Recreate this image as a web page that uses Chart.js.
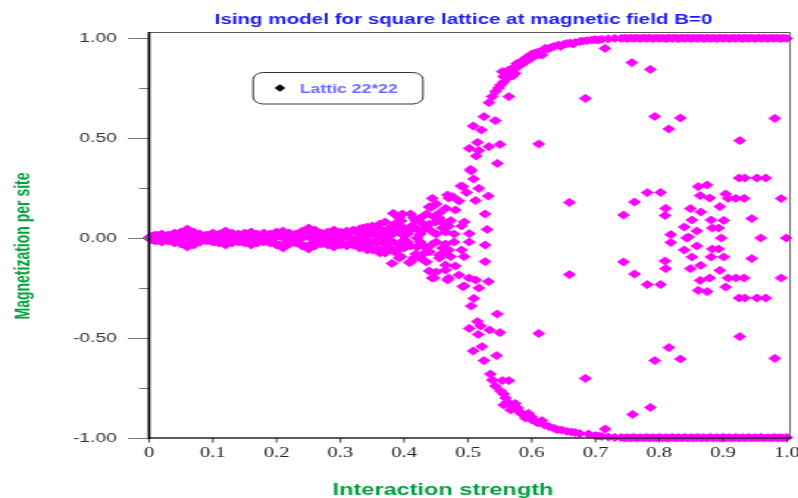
<!DOCTYPE html>
<html>
<head>
<meta charset="utf-8">
<script src="https://cdn.jsdelivr.net/npm/chart.js@4.4.1/dist/chart.umd.min.js"></script>
<style>
  html, body { margin: 0; padding: 0; background: #fff; }
  #ising { display: block; }
</style>
</head>
<body>
<!-- drawn narrow and stretched sideways, like the original picture -->
<canvas id="ising" width="543" height="498" style="width:798px;height:498px"></canvas>
<script>
const chartTitle = 'Ising model for square lattice at magnetic field B=0';
const xTitle = 'Interaction strength';
const yTitle = 'Magnetization per site';
const seriesName = 'Lattic 22*22';

const xTickValues = [0, 0.1, 0.2, 0.3, 0.4, 0.5, 0.6, 0.7, 0.8, 0.9, 1.0];
const yTickValues = [-1, -0.5, 0, 0.5, 1];
const yMinorTicks = [-0.75, -0.25, 0.25, 0.75];

// narrow band around zero, weak coupling
const bandX = [0.00, 0.01, 0.02, 0.03, 0.04, 0.05, 0.06, 0.07, 0.08, 0.09,
               0.10, 0.11, 0.12, 0.13, 0.14, 0.15, 0.16, 0.17, 0.18, 0.19,
               0.20, 0.21, 0.22, 0.23, 0.24, 0.25, 0.26, 0.27, 0.28, 0.29,
               0.30, 0.31, 0.32, 0.33];
const bandUp = [0.000, 0.015, 0.020, 0.015, 0.025, 0.030, 0.045, 0.030, 0.020, 0.015,
                0.025, 0.020, 0.035, 0.025, 0.020, 0.025, 0.030, 0.020, 0.025, 0.020,
                0.030, 0.035, 0.025, 0.020, 0.035, 0.050, 0.040, 0.025, 0.030, 0.040,
                0.030, 0.035, 0.040, 0.045];
const bandMid = [0.000, 0.000, -0.005, 0.005, 0.000, -0.005, 0.005, 0.000, 0.005, -0.005,
                 0.000, 0.005, -0.005, 0.000, 0.005, 0.000, -0.005, 0.005, 0.000, -0.005,
                 0.005, 0.000, -0.005, 0.005, 0.000, 0.005, -0.005, 0.000, 0.005, -0.005,
                 0.000, 0.005, -0.005, 0.000];
const bandDown = [0.000, -0.015, -0.020, -0.015, -0.025, -0.030, -0.045, -0.035, -0.020, -0.015,
                  -0.020, -0.025, -0.035, -0.025, -0.020, -0.025, -0.035, -0.025, -0.020, -0.025,
                  -0.035, -0.050, -0.030, -0.025, -0.040, -0.055, -0.040, -0.030, -0.035, -0.045,
                  -0.035, -0.040, -0.035, -0.050];
const bandHalfX = [0.005, 0.015, 0.025, 0.035, 0.045, 0.055, 0.065, 0.075, 0.085, 0.095,
                   0.105, 0.115, 0.125, 0.135, 0.145, 0.155, 0.165, 0.175, 0.185, 0.195,
                   0.205, 0.215, 0.225, 0.235, 0.245, 0.255, 0.265, 0.275, 0.285, 0.295,
                   0.305, 0.315, 0.325];
const bandHalfUp = [0.010, 0.012, 0.008, 0.015, 0.020, 0.030, 0.025, 0.012, 0.010, 0.015,
                    0.012, 0.022, 0.020, 0.012, 0.015, 0.020, 0.015, 0.012, 0.015, 0.018,
                    0.025, 0.020, 0.012, 0.022, 0.035, 0.030, 0.018, 0.020, 0.025, 0.022,
                    0.025, 0.028, 0.030];
const bandHalfDown = [-0.010, -0.012, -0.010, -0.015, -0.020, -0.030, -0.025, -0.012, -0.010, -0.012,
                      -0.018, -0.022, -0.020, -0.012, -0.018, -0.022, -0.018, -0.012, -0.015, -0.022,
                      -0.035, -0.030, -0.018, -0.025, -0.040, -0.030, -0.022, -0.025, -0.030, -0.028,
                      -0.030, -0.028, -0.035];

// fork around the transition
const forkPoints = [
  [0.335, 0.05], [0.345, 0.035], [0.35, 0.06], [0.355, 0.025], [0.36, 0.05], [0.365, 0.015], [0.37, 0.08], [0.375, 0.045], [0.38, 0.05], [0.383, 0.123],
  [0.39, 0.03], [0.395, 0.085], [0.397, 0.12], [0.40, 0.05], [0.405, 0.02], [0.41, 0.12], [0.412, 0.06], [0.418, 0.087], [0.42, 0.045], [0.425, 0.02],
  [0.43, 0.07], [0.435, 0.05], [0.439, 0.155], [0.444, 0.198], [0.445, 0.03], [0.447, 0.105], [0.45, 0.08], [0.455, 0.125], [0.46, 0.05], [0.465, 0.148],
  [0.468, 0.215], [0.47, 0.2], [0.473, 0.087], [0.478, 0.02], [0.486, 0.185], [0.489, 0.26], [0.492, 0.257], [0.494, 0.08], [0.498, 0.228], [0.502, 0.022],
  [0.505, 0.335], [0.509, 0.295], [0.512, 0.187], [0.517, 0.248], [0.527, 0.12], [0.532, 0.21], [0.53, 0.043], [0.442, 0.153], [0.476, 0.207],
  [0.33, 0.03], [0.34, 0.01], [0.35, 0.02], [0.36, 0.0], [0.37, 0.03], [0.38, 0.015], [0.385, 0.07], [0.39, 0.06], [0.40, 0.01], [0.41, 0.04],
  [0.415, 0.1], [0.42, 0.0], [0.43, 0.04], [0.435, 0.12], [0.44, 0.07], [0.45, 0.02], [0.45, 0.17], [0.455, 0.1], [0.46, 0.08], [0.465, 0.03],
  [0.47, 0.06], [0.48, 0.14], [0.49, 0.06], [0.425, 0.1], [0.342, 0.055], [0.362, 0.07], [0.372, 0.01], [0.392, 0.1],
  [0.335, -0.045], [0.345, -0.035], [0.35, -0.06], [0.355, -0.025], [0.36, -0.055], [0.365, -0.015], [0.37, -0.075], [0.375, -0.05], [0.38, -0.055], [0.381, -0.127],
  [0.39, -0.03], [0.395, -0.093], [0.40, -0.05], [0.405, -0.02], [0.408, -0.123], [0.411, -0.118], [0.418, -0.08], [0.42, -0.045], [0.425, -0.02], [0.431, -0.077],
  [0.435, -0.05], [0.439, -0.165], [0.444, -0.2], [0.445, -0.03], [0.447, -0.2], [0.455, -0.085], [0.46, -0.05], [0.465, -0.16], [0.465, -0.135], [0.468, -0.21],
  [0.47, -0.2], [0.473, -0.093], [0.478, -0.02], [0.486, -0.185], [0.492, -0.243], [0.494, -0.093], [0.494, -0.24], [0.502, -0.2], [0.502, -0.02], [0.505, -0.34],
  [0.509, -0.302], [0.512, -0.21], [0.517, -0.25], [0.527, -0.118], [0.527, -0.035], [0.532, -0.218],
  [0.33, -0.03], [0.34, -0.01], [0.35, -0.02], [0.37, -0.03], [0.38, -0.015], [0.385, -0.07], [0.39, -0.06], [0.40, -0.01], [0.41, -0.04], [0.415, -0.1],
  [0.43, -0.04], [0.435, -0.12], [0.44, -0.07], [0.45, -0.02], [0.45, -0.17], [0.455, -0.1], [0.46, -0.08], [0.465, -0.03], [0.47, -0.06], [0.48, -0.14],
  [0.49, -0.06], [0.425, -0.1], [0.342, -0.06], [0.362, -0.075], [0.372, -0.01], [0.392, -0.1]
];

// branch going to +1
const upperBranch = [
  [0.502, 0.448], [0.504, 0.343], [0.508, 0.56], [0.513, 0.41], [0.515, 0.478], [0.517, 0.437], [0.521, 0.54], [0.525, 0.607], [0.533, 0.457], [0.543, 0.587],
  [0.546, 0.373], [0.55, 0.468], [0.611, 0.47], [0.684, 0.698], [0.715, 0.948], [0.757, 0.877], [0.786, 0.843], [0.793, 0.608], [0.815, 0.545], [0.833, 0.6],
  [0.926, 0.487], [0.981, 0.598],
  [0.533, 0.677], [0.538, 0.707], [0.543, 0.732], [0.548, 0.75], [0.551, 0.765], [0.554, 0.832], [0.556, 0.807], [0.56, 0.82], [0.564, 0.84], [0.564, 0.707],
  [0.568, 0.83], [0.57, 0.85], [0.574, 0.823], [0.577, 0.873], [0.58, 0.86], [0.583, 0.87], [0.585, 0.885], [0.59, 0.898], [0.595, 0.905], [0.6, 0.92],
  [0.605, 0.925], [0.61, 0.93], [0.616, 0.915], [0.621, 0.948], [0.625, 0.945], [0.63, 0.952], [0.635, 0.958], [0.642, 0.965], [0.65, 0.968], [0.655, 0.972],
  [0.66, 0.975], [0.668, 0.977], [0.675, 0.982], [0.68, 0.985], [0.687, 0.987], [0.694, 0.99], [0.70, 0.992], [0.71, 0.994], [0.72, 0.996], [0.73, 0.998],
  [0.556, 0.78], [0.562, 0.8], [0.57, 0.81], [0.575, 0.85], [0.59, 0.88], [0.6, 0.9], [0.61, 0.915], [0.645, 0.958], [0.665, 0.97], [0.705, 0.99]
];

// branch going to -1
const lowerBranch = [
  [0.502, -0.452], [0.508, -0.565], [0.515, -0.418], [0.516, -0.482], [0.52, -0.44], [0.522, -0.543], [0.525, -0.613], [0.534, -0.46], [0.545, -0.588], [0.546, -0.38],
  [0.55, -0.473], [0.611, -0.477], [0.684, -0.702], [0.715, -0.955], [0.758, -0.882], [0.786, -0.847], [0.793, -0.613], [0.815, -0.548], [0.833, -0.605], [0.926, -0.493],
  [0.981, -0.602],
  [0.535, -0.68], [0.538, -0.71], [0.543, -0.74], [0.551, -0.765], [0.554, -0.713], [0.556, -0.835], [0.559, -0.8], [0.564, -0.713], [0.567, -0.86], [0.574, -0.827],
  [0.58, -0.868], [0.585, -0.88], [0.59, -0.9], [0.595, -0.877], [0.6, -0.91], [0.606, -0.918], [0.616, -0.913], [0.62, -0.935], [0.627, -0.943], [0.635, -0.952],
  [0.647, -0.96], [0.655, -0.967], [0.668, -0.973], [0.675, -0.978], [0.689, -0.98], [0.70, -0.988], [0.71, -0.992], [0.72, -0.995], [0.73, -0.997],
  [0.556, -0.78], [0.562, -0.82], [0.57, -0.84], [0.578, -0.85], [0.59, -0.885], [0.6, -0.895], [0.61, -0.925], [0.64, -0.958], [0.662, -0.97], [0.705, -0.99]
];

// flat parts at +1 and -1
const plateauX = [0.740, 0.745, 0.750, 0.755, 0.760, 0.765, 0.770, 0.775, 0.780, 0.785,
                  0.790, 0.795, 0.800, 0.805, 0.810, 0.815, 0.820, 0.825, 0.830, 0.835,
                  0.840, 0.845, 0.850, 0.855, 0.860, 0.865, 0.870, 0.875, 0.880, 0.885,
                  0.890, 0.895, 0.900, 0.905, 0.910, 0.915, 0.920, 0.925, 0.930, 0.935,
                  0.940, 0.945, 0.950, 0.955, 0.960, 0.965, 0.970, 0.975, 0.980, 0.985,
                  0.990, 0.995, 1.000];
const plateauTop = [0.998, 1.000, 0.997, 1.000, 0.998, 1.000, 0.997, 1.000, 0.998, 1.000,
                    0.997, 1.000, 0.998, 1.000, 0.997, 1.000, 0.998, 1.000, 0.997, 1.000,
                    0.998, 1.000, 0.997, 1.000, 0.998, 1.000, 0.997, 1.000, 0.998, 1.000,
                    0.997, 1.000, 0.998, 1.000, 0.997, 1.000, 0.998, 1.000, 0.997, 1.000,
                    0.998, 1.000, 0.997, 1.000, 0.998, 1.000, 0.997, 1.000, 0.998, 1.000,
                    0.997, 1.000, 0.998];
const plateauBottom = [-0.997, -1.000, -0.998, -1.000, -0.997, -1.000, -0.998, -1.000, -0.997, -1.000,
                       -0.998, -1.000, -0.997, -1.000, -0.998, -1.000, -0.997, -1.000, -0.998, -1.000,
                       -0.997, -1.000, -0.998, -1.000, -0.997, -1.000, -0.998, -1.000, -0.997, -1.000,
                       -0.998, -1.000, -0.997, -1.000, -0.998, -1.000, -0.997, -1.000, -0.998, -1.000,
                       -0.997, -1.000, -0.998, -1.000, -0.997, -1.000, -0.998, -1.000, -0.997, -1.000,
                       -0.998, -1.000, -0.997];

// stray points inside the ordered region
const strayPoints = [
  [0.659, 0.178], [0.659, -0.183], [0.761, 0.18], [0.761, -0.18], [0.744, 0.115], [0.744, -0.12], [0.781, 0.227], [0.781, -0.233], [0.802, 0.228], [0.802, -0.233],
  [0.81, 0.148], [0.81, -0.153], [0.809, 0.112], [0.809, -0.115], [0.818, 0.017], [0.818, -0.022], [0.839, 0.055], [0.839, -0.06], [0.843, 0.0], [0.846, 0.005],
  [0.849, 0.147], [0.849, -0.153], [0.851, 0.09], [0.851, -0.095], [0.859, 0.035], [0.859, -0.04], [0.861, 0.257], [0.861, -0.262], [0.864, 0.212], [0.864, -0.212],
  [0.865, 0.13], [0.865, -0.137], [0.875, 0.265], [0.875, -0.268], [0.879, 0.2], [0.879, -0.2], [0.881, 0.09], [0.881, -0.095], [0.883, 0.05], [0.883, -0.055],
  [0.893, 0.05], [0.893, -0.055], [0.895, 0.157], [0.895, -0.162], [0.897, 0.0], [0.901, 0.088], [0.901, -0.095], [0.904, 0.22], [0.904, -0.245], [0.908, 0.198],
  [0.92, 0.198], [0.933, 0.198], [0.908, -0.2], [0.92, -0.2], [0.933, -0.2], [0.925, 0.3], [0.934, 0.3], [0.953, 0.3], [0.967, 0.3], [0.925, -0.3],
  [0.934, -0.3], [0.953, -0.3], [0.967, -0.3], [0.945, 0.097], [0.945, -0.103], [0.959, 0.0], [0.991, 0.197], [0.991, -0.2], [0.999, 0.0]
];

const points = [];
bandX.forEach((x, i) => {
  points.push({ x: x, y: bandUp[i] });
  points.push({ x: x, y: bandMid[i] });
  points.push({ x: x, y: bandDown[i] });
});
bandHalfX.forEach((x, i) => {
  points.push({ x: x, y: bandHalfUp[i] });
  points.push({ x: x, y: bandHalfDown[i] });
});
plateauX.forEach((x, i) => {
  points.push({ x: x, y: plateauTop[i] });
  points.push({ x: x, y: plateauBottom[i] });
});
[forkPoints, upperBranch, lowerBranch, strayPoints].forEach(list => {
  list.forEach(p => points.push({ x: p[0], y: p[1] }));
});

const SANS = '"Liberation Sans", Arial, sans-serif';
const SERIF = '"Liberation Serif", "Times New Roman", serif';

const frame = {
  id: 'frame',
  afterDatasetsDraw(chart) {
    const { ctx, chartArea: a, scales: { x, y } } = chart;
    ctx.save();
    ctx.lineWidth = 1;
    ctx.strokeStyle = '#555';
    ctx.beginPath();
    ctx.moveTo(a.left, a.top + 0.5);
    ctx.lineTo(a.right - 0.5, a.top + 0.5);
    ctx.lineTo(a.right - 0.5, a.bottom);
    ctx.stroke();

    ctx.strokeStyle = '#777';
    yTickValues.concat(yMinorTicks).forEach(v => {
      const py = Math.round(y.getPixelForValue(v)) + 0.5;
      const len = yTickValues.includes(v) ? 14.3 : 6.8;
      ctx.beginPath();
      ctx.moveTo(a.left - len, py);
      ctx.lineTo(a.left, py);
      ctx.stroke();
    });

    ctx.strokeStyle = '#333';
    xTickValues.forEach(v => {
      const px = x.getPixelForValue(v);
      ctx.beginPath();
      ctx.moveTo(px, a.bottom);
      ctx.lineTo(px, a.bottom + 4.5);
      ctx.stroke();
    });

    ctx.strokeStyle = '#222';
    ctx.lineWidth = 1.5;
    ctx.beginPath();
    ctx.moveTo(a.left, a.bottom);
    ctx.lineTo(a.right, a.bottom);
    ctx.stroke();

    ctx.strokeStyle = '#000';
    ctx.lineWidth = 1.8;
    ctx.beginPath();
    ctx.moveTo(a.left, a.top);
    ctx.lineTo(a.left, a.bottom + 1);
    ctx.stroke();
    ctx.restore();
  }
};

const titles = {
  id: 'titles',
  afterDraw(chart) {
    const ctx = chart.ctx;
    ctx.save();
    ctx.textAlign = 'center';
    ctx.textBaseline = 'alphabetic';
    ctx.fillStyle = '#1a1aff';
    ctx.font = 'bold 14px ' + SANS;
    ctx.fillText(chartTitle, 315.4, 24);

    ctx.fillStyle = '#00a03c';
    ctx.font = 'bold 16px ' + SANS;
    ctx.fillText(xTitle, 301.4, 495);

    ctx.save();
    ctx.translate(19.8, 246);
    ctx.rotate(-Math.PI / 2);
    ctx.font = 'bold 14px ' + SANS;
    ctx.fillText(yTitle, 0, 0);
    ctx.restore();

    // legend box
    ctx.strokeStyle = '#333';
    ctx.lineWidth = 1;
    ctx.beginPath();
    ctx.roundRect(172.2, 72.5, 115.6, 31.5, 7);
    ctx.stroke();
    ctx.fillStyle = '#000';
    ctx.beginPath();
    ctx.moveTo(186.8, 88);
    ctx.lineTo(190.5, 84.2);
    ctx.lineTo(194.2, 88);
    ctx.lineTo(190.5, 91.8);
    ctx.closePath();
    ctx.fill();
    ctx.fillStyle = '#6b6bff';
    ctx.font = 'bold 12px ' + SANS;
    ctx.textAlign = 'left';
    ctx.fillText(seriesName, 204, 92.5);
    ctx.restore();
  }
};

new Chart(document.getElementById('ising'), {
  type: 'scatter',
  data: {
    datasets: [{
      label: seriesName,
      data: points,
      pointStyle: 'rectRot',
      pointRadius: 4.1,
      borderWidth: 0.8,
      backgroundColor: '#ff00ff',
      borderColor: '#ff00ff',
      clip: false
    }]
  },
  options: {
    responsive: false,
    animation: false,
    events: [],
    layout: { padding: { top: 32, right: 3.4, left: 0, bottom: 0 } },
    plugins: {
      legend: { display: false },
      tooltip: { enabled: false },
      title: { display: false }
    },
    scales: {
      x: {
        type: 'linear',
        min: 0,
        max: 1.0062,
        grid: { display: false, drawTicks: false },
        border: { display: false },
        afterBuildTicks: s => { s.ticks = xTickValues.map(v => ({ value: v })); },
        afterFit: s => { s.height = 60; s.paddingLeft = 0; s.paddingRight = 0; },
        ticks: {
          autoSkip: false,
          maxRotation: 0,
          padding: 7,
          color: '#222',
          font: { family: SERIF, size: 14 },
          callback: v => (v === 0 ? '0' : v.toFixed(1))
        }
      },
      y: {
        type: 'linear',
        min: -1,
        max: 1.03,
        grid: { display: false, drawTicks: false },
        border: { display: false },
        afterBuildTicks: s => { s.ticks = yTickValues.map(v => ({ value: v })); },
        afterFit: s => { s.width = 101.4; s.paddingTop = 0; s.paddingBottom = 0; },
        ticks: {
          padding: 22,
          color: '#333',
          font: { family: SANS, size: 13 },
          callback: v => v.toFixed(2)
        }
      }
    }
  },
  plugins: [frame, titles]
});
</script>
</body>
</html>
